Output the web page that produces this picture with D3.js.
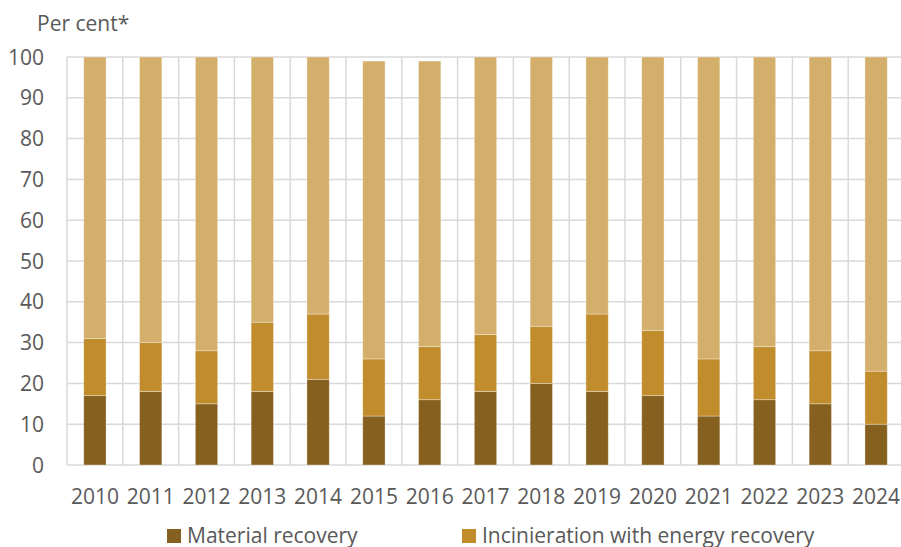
<!DOCTYPE html>
<html>
<head>
<meta charset="utf-8">
<script src="https://cdn.jsdelivr.net/npm/d3@7"></script>
<style>
  body { margin: 0; background: #fff; }
  text { font-family: "Open Sans", sans-serif; fill: #595959; }
</style>
</head>
<body>
<div id="chart"></div>
<script>
// data (per cent)
const years = ["2010","2011","2012","2013","2014","2015","2016","2017","2018","2019","2020","2021","2022","2023","2024"];
const materialRecovery = [17, 18, 15, 18, 21, 12, 16, 18, 20, 18, 17, 12, 16, 15, 10];
const incineration     = [14, 12, 13, 17, 16, 14, 13, 14, 14, 19, 16, 14, 13, 13, 13];
const otherTreatment   = [69, 70, 72, 65, 63, 73, 70, 68, 66, 63, 67, 74, 71, 72, 77];
const yTicks = [0, 10, 20, 30, 40, 50, 60, 70, 80, 90, 100];

const seriesNames = ["Material recovery", "Incinieration with energy recovery", "Other"];
const colors = ["#86601e", "#c08c2c", "#d3af6b"];

const width = 901, height = 547;
const plotLeft = 67, plotRight = 904, plotTop = 57, plotBottom = 465;

const svg = d3.select("#chart").append("svg")
    .attr("width", width)
    .attr("height", height);

const x = d3.scaleBand()
    .domain(years)
    .range([plotLeft, plotRight])
    .paddingInner(0.6)
    .paddingOuter(0.3);

const y = d3.scaleLinear()
    .domain([0, 100])
    .range([plotBottom, plotTop]);

// gridlines
const grid = svg.append("g").attr("stroke", "#d9d9d9").attr("stroke-width", 1.5);
grid.selectAll("line.h")
    .data(yTicks)
    .enter().append("line")
    .attr("class", "h")
    .attr("x1", plotLeft).attr("x2", plotRight)
    .attr("y1", d => y(d)).attr("y2", d => y(d));

const step = x.step();
grid.selectAll("line.v")
    .data(d3.range(years.length + 1))
    .enter().append("line")
    .attr("class", "v")
    .attr("x1", i => plotLeft + i * step).attr("x2", i => plotLeft + i * step)
    .attr("y1", plotTop).attr("y2", plotBottom);

// stacked bars
const table = years.map((yr, i) => ({
    year: yr,
    m: materialRecovery[i],
    e: incineration[i],
    o: otherTreatment[i]
}));
const stack = d3.stack().keys(["m", "e", "o"]);
const layers = stack(table);

svg.append("g").selectAll("g")
    .data(layers)
    .enter().append("g")
    .attr("fill", (d, i) => colors[i])
    .selectAll("rect")
    .data(d => d)
    .enter().append("rect")
    .attr("x", d => x(d.data.year))
    .attr("width", x.bandwidth())
    .attr("y", d => y(d[1]))
    .attr("height", d => y(d[0]) - y(d[1]))
    .attr("stroke", "rgba(255,255,255,0.4)")
    .attr("stroke-width", 0.8);

// y axis labels
svg.append("g").selectAll("text")
    .data(yTicks)
    .enter().append("text")
    .attr("x", 44)
    .attr("y", d => y(d))
    .attr("dy", "0.36em")
    .attr("text-anchor", "end")
    .attr("font-size", 21)
    .text(d => d);

// x axis labels
svg.append("g").selectAll("text")
    .data(years)
    .enter().append("text")
    .attr("x", d => x(d) + x.bandwidth() / 2)
    .attr("y", 504)
    .attr("text-anchor", "middle")
    .attr("font-size", 21)
    .text(d => d);

svg.append("text")
    .attr("x", 37)
    .attr("y", 31)
    .attr("font-size", 21)
    .text("Per cent*");

// legend (third entry falls outside the picture in the reference)
const legend = svg.append("g").selectAll("g")
    .data([0, 1])
    .enter().append("g")
    .attr("transform", i => "translate(" + [167, 462][i] + ",529)");

legend.append("rect")
    .attr("width", 14).attr("height", 14)
    .attr("fill", i => colors[i]);

legend.append("text")
    .attr("x", 20)
    .attr("y", 14)
    .attr("font-size", 21)
    .text(i => seriesNames[i]);
</script>
</body>
</html>
